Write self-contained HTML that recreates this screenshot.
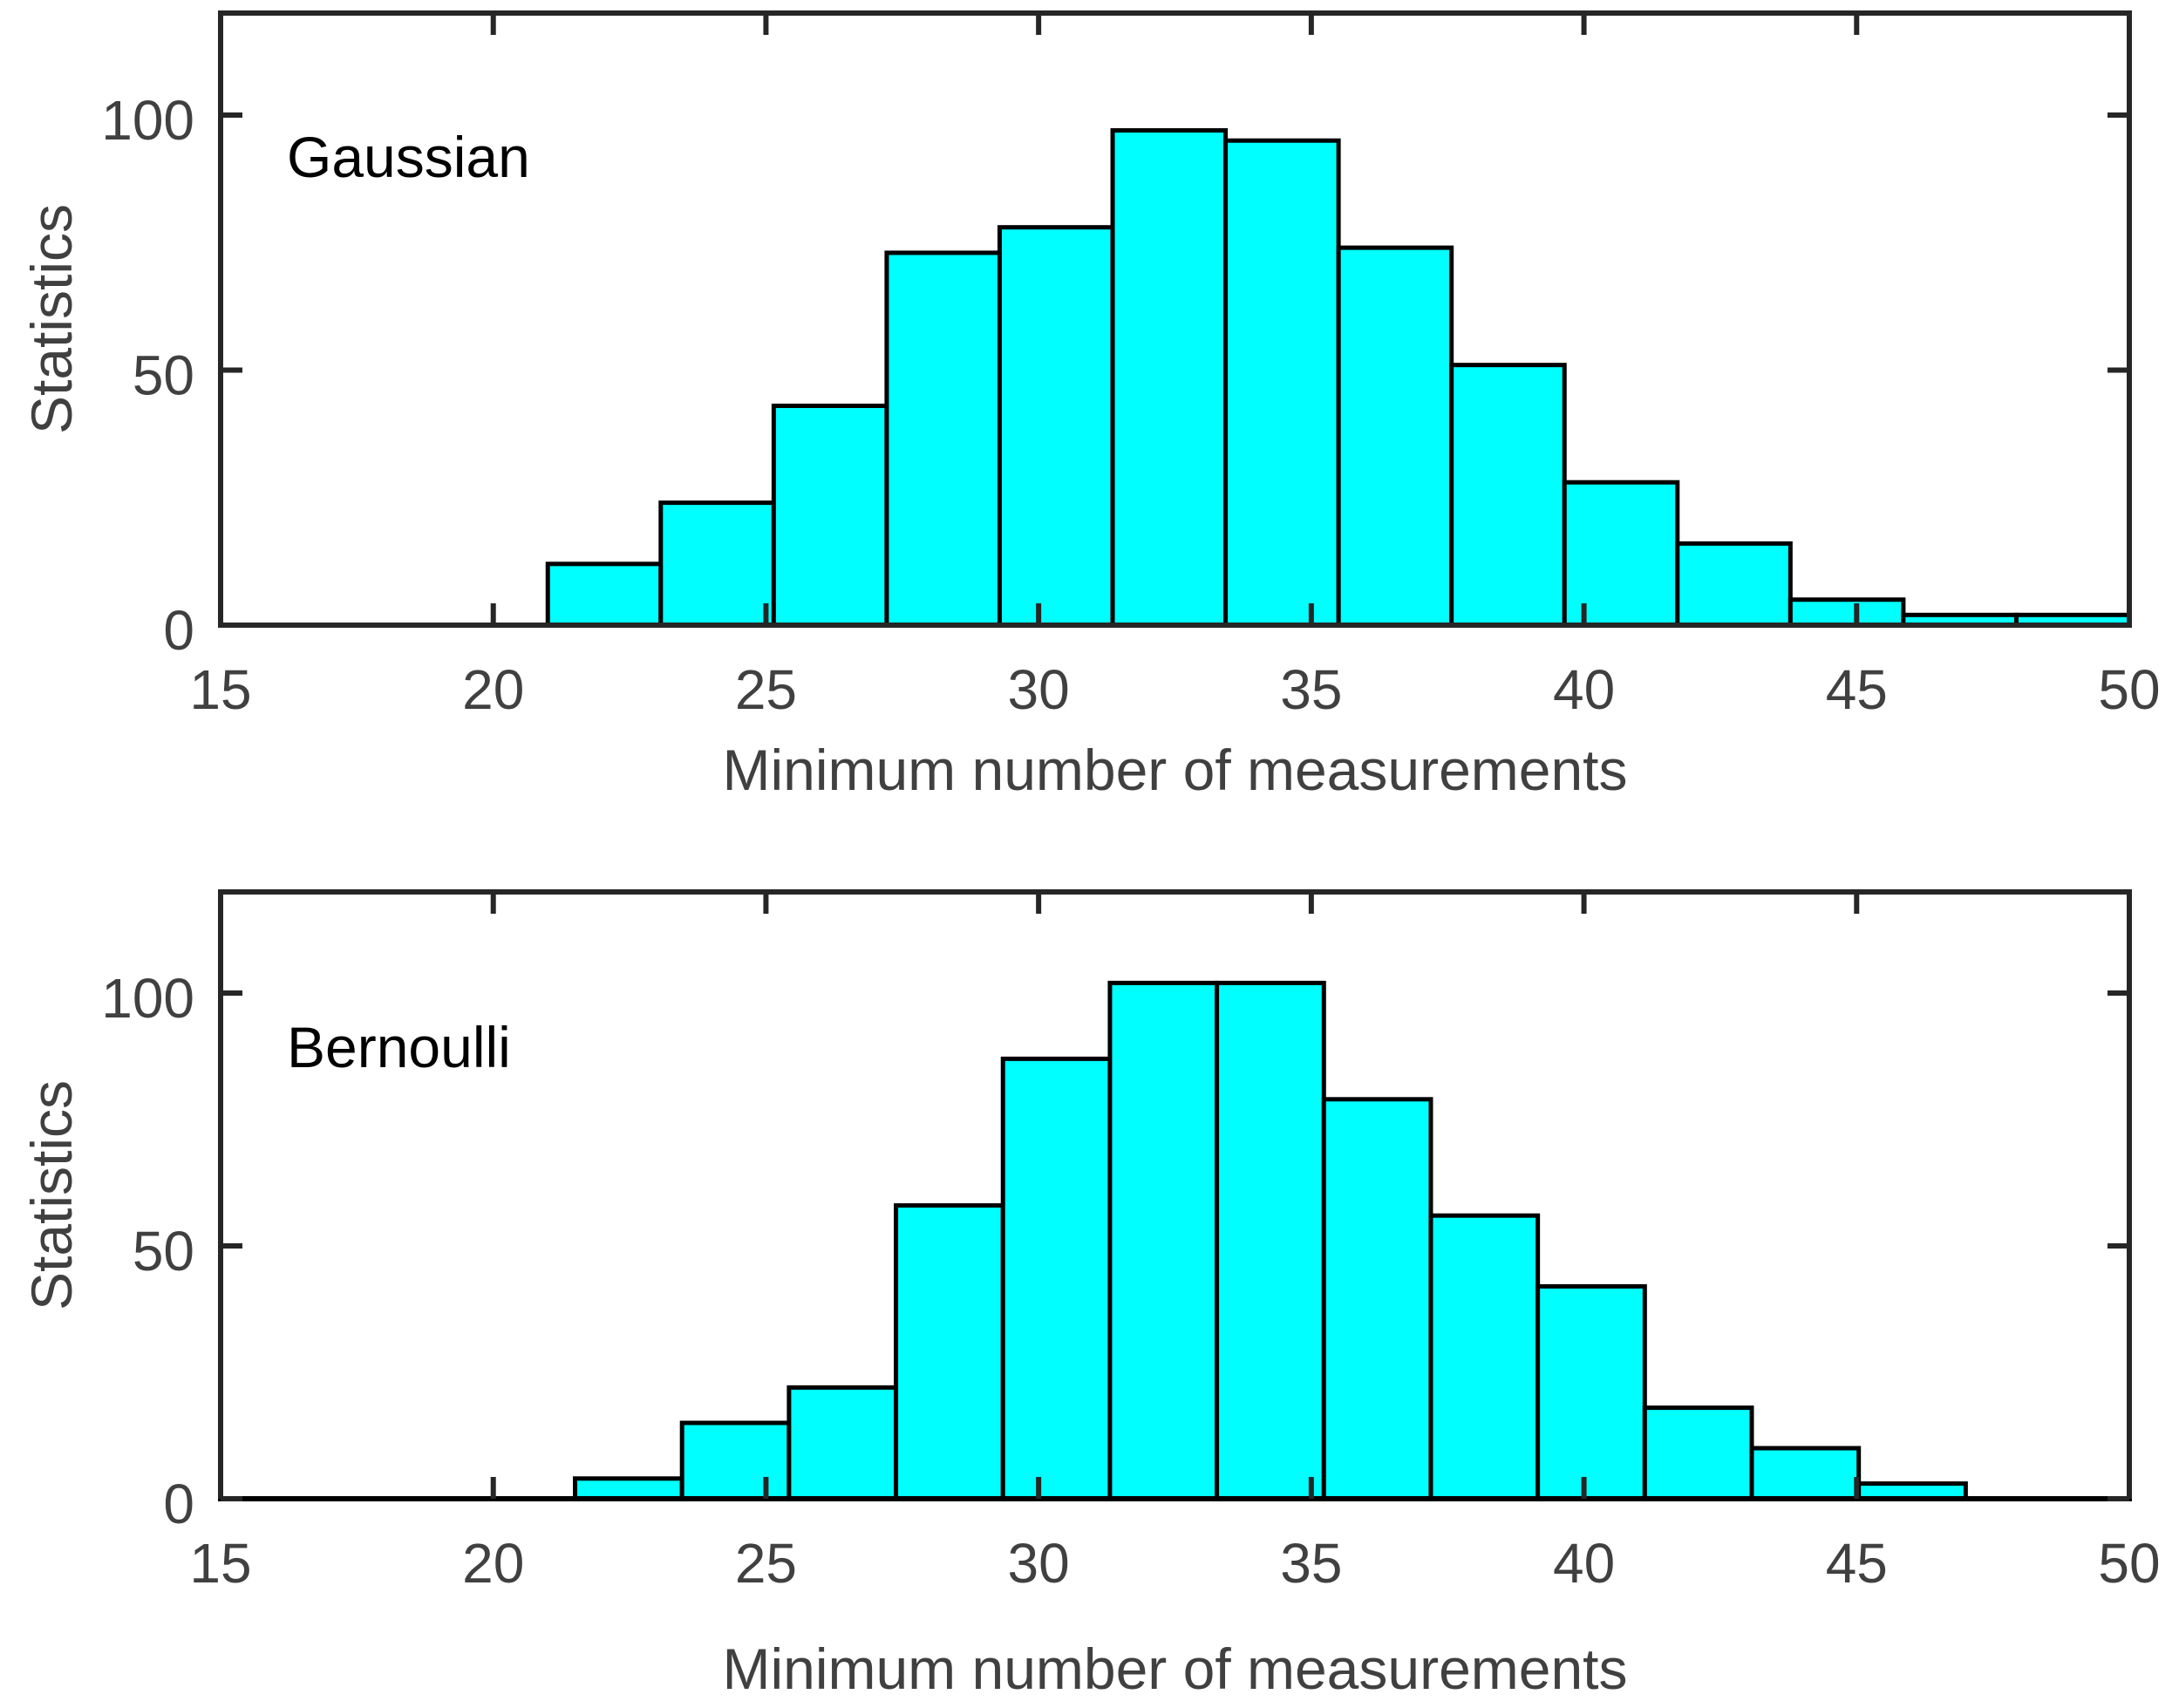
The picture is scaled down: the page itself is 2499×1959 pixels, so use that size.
<!DOCTYPE html>
<html><head><meta charset="utf-8"><style>
html,body{margin:0;padding:0;background:#fff;}
svg{display:block;font-family:"Liberation Sans",Arial,sans-serif;}
</style></head>
<body>
<svg id="fig" width="2499" height="1959" viewBox="0 0 2499 1959" xmlns="http://www.w3.org/2000/svg"></svg>
<script>
const xTicks = [15, 20, 25, 30, 35, 40, 45, 50];
const yTicks = [0, 50, 100];
const gaussEdgeStart = 21.0;
const gaussEdgeEnd = 50.0;
const gaussCounts = [12, 24, 43, 73, 78, 97, 95, 74, 51, 28, 16, 5, 2, 2];
const bernEdgeStart = 21.5;
const bernEdgeEnd = 47.0;
const bernCounts = [4, 15, 22, 58, 87, 102, 102, 79, 56, 42, 18, 10, 3];

const NS = 'http://www.w3.org/2000/svg';
const svg = document.getElementById('fig');
function mk(tag, attrs, parent) {
  const e = document.createElementNS(NS, tag);
  for (const k in attrs) e.setAttribute(k, attrs[k]);
  (parent || svg).appendChild(e);
  return e;
}
const L = 253, R = 2442, XMIN = 15, XMAX = 50, YMAX = 120;
function xs(v) { return L + (v - XMIN) / (XMAX - XMIN) * (R - L); }

function panel(name, top, bottom, start, end, counts, label, labelY, titleY, bottomColor) {
  const g = mk('g', {});
  
  
  const ys = v => bottom - v / YMAX * (bottom - top);
  const w = (end - start) / counts.length;
  counts.forEach((c, i) => {
    const x0 = xs(start + i * w), x1 = xs(start + (i + 1) * w);
    const r = mk('rect', {x: x0, y: ys(c), width: x1 - x0, height: bottom - ys(c), fill: '#00ffff', stroke: '#000', 'stroke-width': 5}, g);
    
    
  });
  const box = mk('rect', {x: L, y: top, width: R - L, height: bottom - top, fill: 'none', stroke: '#262626', 'stroke-width': 6}, g);
  
  
  mk('line', {x1: L - 3, y1: bottom, x2: R + 3, y2: bottom, stroke: bottomColor, 'stroke-width': 6}, g);
  xTicks.forEach(t => {
    const x = xs(t);
    mk('line', {x1: x, y1: bottom, x2: x, y2: bottom - 25, stroke: '#262626', 'stroke-width': 6}, g);
    mk('line', {x1: x, y1: top, x2: x, y2: top + 25, stroke: '#262626', 'stroke-width': 6}, g);
    const tx = mk('text', {x: x, y: bottom + 96, 'font-size': 64, fill: '#404040', 'text-anchor': 'middle'}, g);
    tx.textContent = t;
    
    
  });
  yTicks.forEach(t => {
    const y = ys(t);
    mk('line', {x1: L, y1: y, x2: L + 25, y2: y, stroke: '#262626', 'stroke-width': 6}, g);
    mk('line', {x1: R, y1: y, x2: R - 25, y2: y, stroke: '#262626', 'stroke-width': 6}, g);
    const ty = mk('text', {x: 223, y: y + 28, 'font-size': 64, fill: '#404040', 'text-anchor': 'end'}, g);
    ty.textContent = t;
    
    
  });
  const xt = mk('text', {x: (L + R) / 2, y: titleY, 'font-size': 66, fill: '#404040', 'text-anchor': 'middle'}, g);
  xt.textContent = 'Minimum number of measurements';
  
  
  const cy = (top + bottom) / 2;
  const yt = mk('text', {x: 0, y: 0, 'font-size': 66, fill: '#404040', 'text-anchor': 'middle', transform: 'translate(82,' + cy + ') rotate(-90)'}, g);
  yt.textContent = 'Statistics';
  
  
  const an = mk('text', {x: 329, y: labelY, 'font-size': 66, fill: '#000'}, g);
  an.textContent = label;
  
  
}
panel('gaussian', 15, 717, gaussEdgeStart, gaussEdgeEnd, gaussCounts, 'Gaussian', 203, 906, '#262626');
panel('bernoulli', 1023, 1719, bernEdgeStart, bernEdgeEnd, bernCounts, 'Bernoulli', 1224, 1937, '#000');
</script>
</body></html>
